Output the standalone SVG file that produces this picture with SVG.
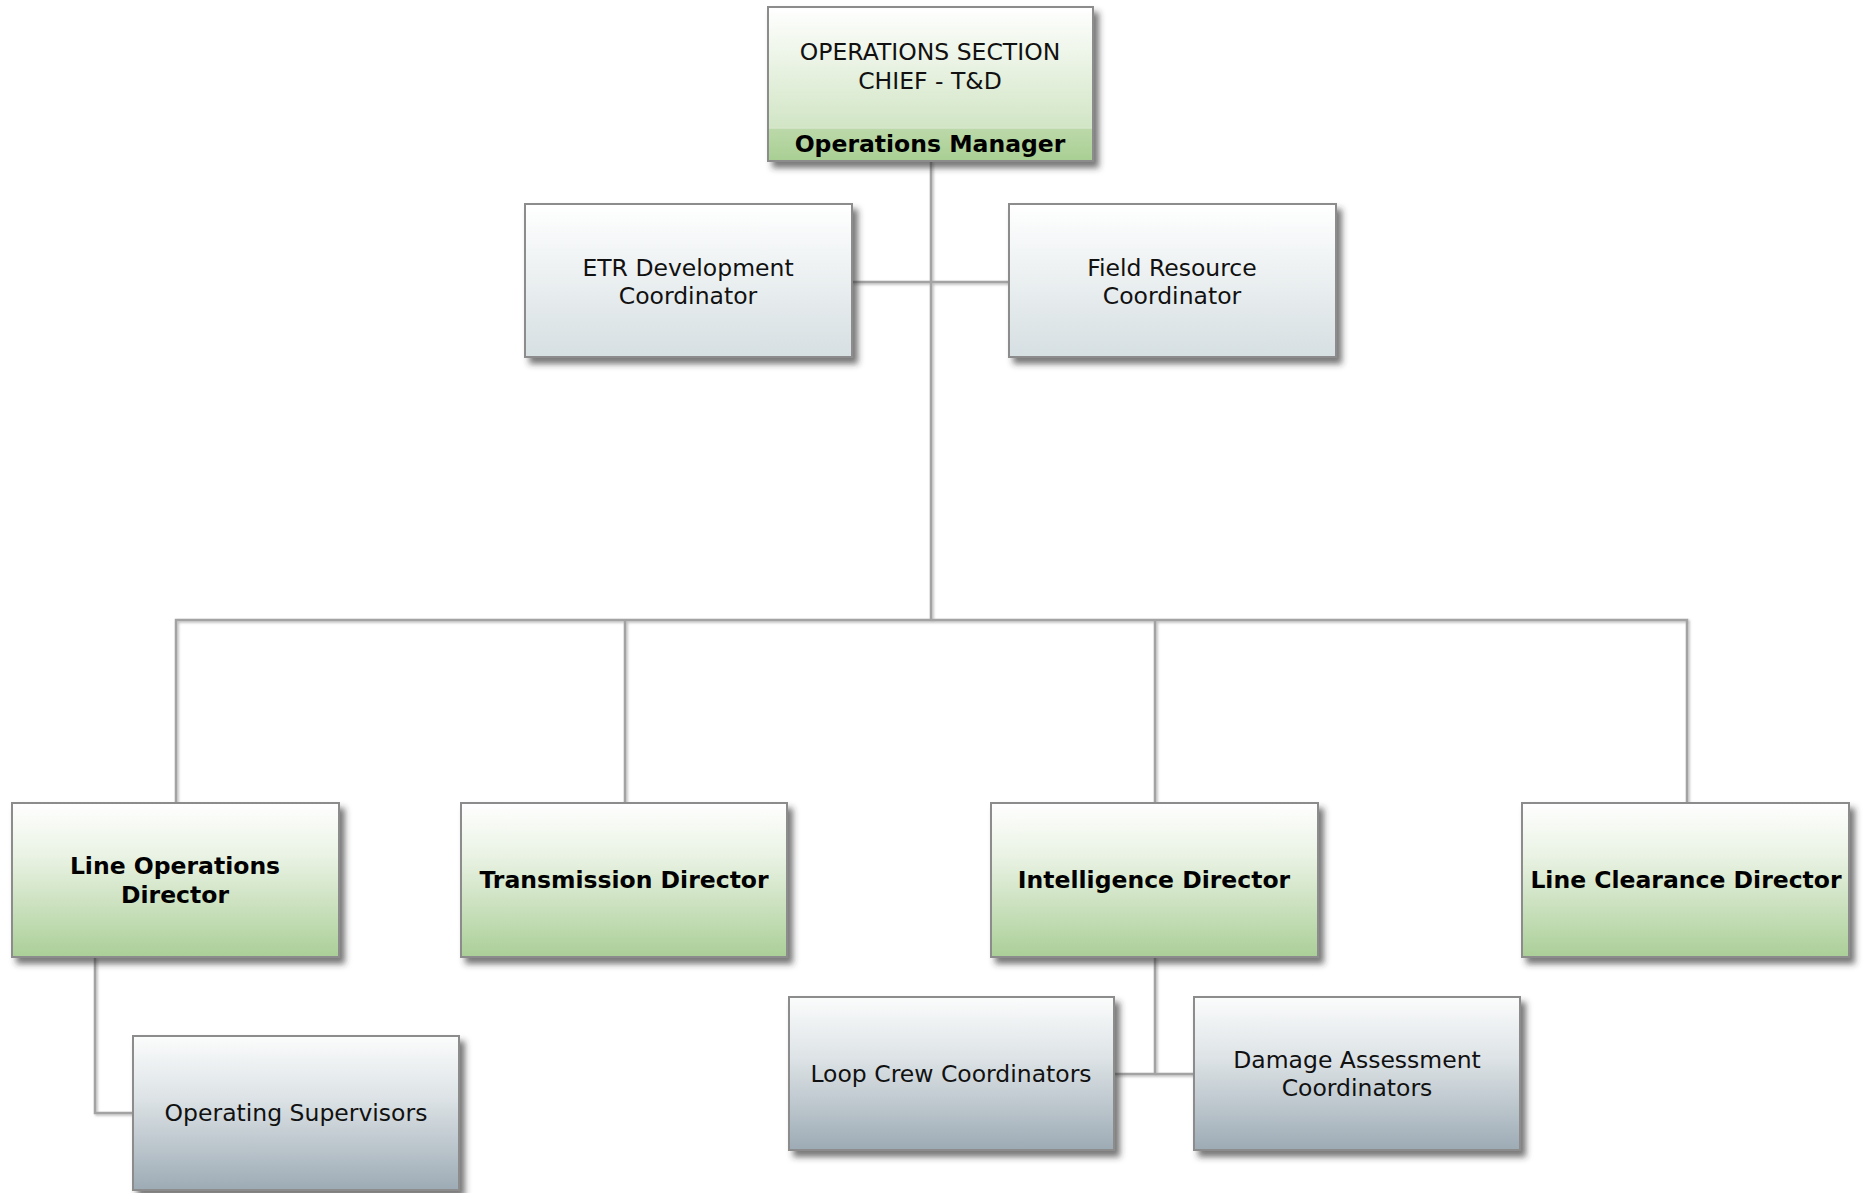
<svg xmlns="http://www.w3.org/2000/svg" width="1865" height="1193" viewBox="0 0 1865 1193">
<defs>
<linearGradient id="gGreen" x1="0" y1="0" x2="0" y2="1">
<stop offset="0" stop-color="#ffffff"/>
<stop offset="0.35" stop-color="#e9f2e3"/>
<stop offset="1" stop-color="#abcf98"/>
</linearGradient>
<linearGradient id="gTop" x1="0" y1="0" x2="0" y2="1">
<stop offset="0" stop-color="#ffffff"/>
<stop offset="1" stop-color="#c5deb5"/>
</linearGradient>
<linearGradient id="gBand" x1="0" y1="0" x2="0" y2="1">
<stop offset="0" stop-color="#bcd9a9"/>
<stop offset="1" stop-color="#a9cf94"/>
</linearGradient>
<linearGradient id="gGray" x1="0" y1="0" x2="0" y2="1">
<stop offset="0" stop-color="#fbfcfc"/>
<stop offset="0.4" stop-color="#dde3e6"/>
<stop offset="1" stop-color="#9dabb5"/>
</linearGradient>
<linearGradient id="gLight" x1="0" y1="0" x2="0" y2="1">
<stop offset="0" stop-color="#ffffff"/>
<stop offset="1" stop-color="#d6dfe2"/>
</linearGradient>
<filter id="shadow" x="-10%" y="-10%" width="130%" height="130%">
<feDropShadow dx="5" dy="6" stdDeviation="3" flood-color="#333333" flood-opacity="0.65"/>
</filter>
<filter id="lshadow" filterUnits="userSpaceOnUse" x="0" y="0" width="1865" height="1193">
<feDropShadow dx="1.5" dy="1.5" stdDeviation="0.8" flood-color="#555555" flood-opacity="0.4"/>
</filter>
</defs>
<style>
.box{stroke:#8c8c8c;stroke-width:2;filter:url(#shadow)}
.green{fill:url(#gGreen)}
.gray{fill:url(#gGray)}
.light{fill:url(#gLight)}
.t{font-family:"DejaVu Sans","Verdana",sans-serif;font-size:23.5px;fill:#111111;text-anchor:middle}
.b{font-weight:bold;fill:#000000}
.conn{fill:none;stroke:#a3a3a3;stroke-width:2.5}
</style>
<rect width="1865" height="1193" fill="#ffffff"/>
<g id="connectors" filter="url(#lshadow)">
<path class="conn" d="M931,161 V620"/>
<path class="conn" d="M852,282 H1009"/>
<path class="conn" d="M176,803 V620 H1687 V803"/>
<path class="conn" d="M625,620 V803"/>
<path class="conn" d="M1155,620 V803"/>
<path class="conn" d="M95,957 V1113 H133"/>
<path class="conn" d="M1155,957 V1074"/>
<path class="conn" d="M1114,1074 H1194"/>
</g>
<g id="node-ops-chief">
<rect x="768" y="7" width="325" height="154" fill="url(#gTop)" class="box"/>
<rect x="769" y="128" width="323" height="32" fill="url(#gBand)"/>
<line x1="769" y1="128" x2="1092" y2="128" stroke="#d6e6cb" stroke-width="1.5"/>
<text class="t" x="930" y="60">OPERATIONS SECTION</text>
<text class="t" x="930" y="89">CHIEF - T&amp;D</text>
<text class="t b" x="930" y="152">Operations Manager</text>
</g>
<g id="node-etr">
<rect x="525" y="204" width="327" height="153" class="box light"/>
<text class="t" x="688" y="276">ETR Development</text>
<text class="t" x="688" y="304">Coordinator</text>
</g>
<g id="node-field">
<rect x="1009" y="204" width="327" height="153" class="box light"/>
<text class="t" x="1172" y="276">Field Resource</text>
<text class="t" x="1172" y="304">Coordinator</text>
</g>
<g id="node-line-ops">
<rect x="12" y="803" width="327" height="154" class="box green"/>
<text class="t b" x="175" y="874">Line Operations</text>
<text class="t b" x="175" y="903">Director</text>
</g>
<g id="node-transmission">
<rect x="461" y="803" width="326" height="154" class="box green"/>
<text class="t b" x="624" y="888">Transmission Director</text>
</g>
<g id="node-intelligence">
<rect x="991" y="803" width="327" height="154" class="box green"/>
<text class="t b" x="1154" y="888">Intelligence Director</text>
</g>
<g id="node-line-clearance">
<rect x="1522" y="803" width="327" height="154" class="box green"/>
<text class="t b" x="1686" y="888">Line Clearance Director</text>
</g>
<g id="node-op-supervisors">
<rect x="133" y="1036" width="326" height="154" class="box gray"/>
<text class="t" x="296" y="1121">Operating Supervisors</text>
</g>
<g id="node-loop-crew">
<rect x="789" y="997" width="325" height="153" class="box gray"/>
<text class="t" x="951" y="1082">Loop Crew Coordinators</text>
</g>
<g id="node-damage">
<rect x="1194" y="997" width="326" height="153" class="box gray"/>
<text class="t" x="1357" y="1068">Damage Assessment</text>
<text class="t" x="1357" y="1096">Coordinators</text>
</g>
</svg>
